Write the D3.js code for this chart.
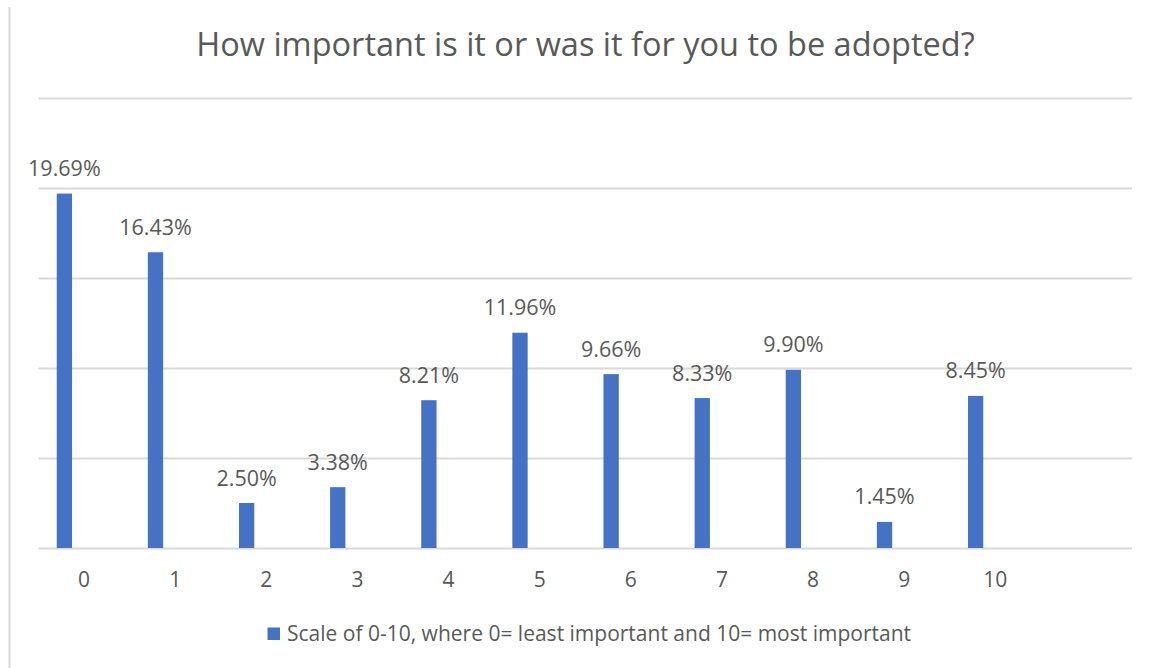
<!DOCTYPE html>
<html>
<head>
<meta charset="utf-8">
<script src="https://cdn.jsdelivr.net/npm/d3@7"></script>
<style>
  html, body { margin: 0; padding: 0; background: #ffffff; }
  svg { display: block; font-family: "Open Sans", "Noto Sans", sans-serif; }
</style>
</head>
<body>
<svg id="chart" width="1153" height="668"></svg>
<script>
// Survey answers on a 0–10 scale, share of respondents (%)
const categories = ["0", "1", "2", "3", "4", "5", "6", "7", "8", "9", "10"];
const values = [19.69, 16.43, 2.50, 3.38, 8.21, 11.96, 9.66, 8.33, 9.90, 1.45, 8.45];
const seriesName = "Scale of 0-10, where 0= least important and 10= most important";
const title = "How important is it or was it for you to be adopted?";
const yTicks = [0, 5, 10, 15, 20, 25];

const W = 1153, H = 668;
const plot = { left: 38.5, right: 1132, top: 98, bottom: 548 };
const barColor = "#4472C4";
const textColor = "#595959";
const gridColor = "#d9d9d9";

const svg = d3.select("#chart");

// thin frame line on the left edge
svg.append("line")
  .attr("x1", 9.5).attr("x2", 9.5)
  .attr("y1", 7).attr("y2", H)
  .attr("stroke", gridColor).attr("stroke-width", 2);

// category axis keeps one trailing empty slot after "10"
const slots = categories.concat([""]);
const x = d3.scaleBand().domain(slots).range([plot.left, plot.right]).padding(0);
const y = d3.scaleLinear().domain([0, 25]).range([plot.bottom, plot.top]);

const bw = x.bandwidth();
const barOffset = bw * 0.2;
const barWidth = bw * 0.168;

// horizontal gridlines
svg.append("g")
  .selectAll("line")
  .data(yTicks)
  .join("line")
  .attr("x1", plot.left).attr("x2", plot.right)
  .attr("y1", d => Math.round(y(d)) + 0.5)
  .attr("y2", d => Math.round(y(d)) + 0.5)
  .attr("stroke", gridColor)
  .attr("stroke-width", 2);

// bars
svg.append("g")
  .selectAll("rect")
  .data(values)
  .join("rect")
  .attr("x", (d, i) => x(categories[i]) + barOffset)
  .attr("width", barWidth)
  .attr("y", d => y(d))
  .attr("height", d => y(0) - y(d))
  .attr("fill", barColor);

// value labels above each bar
svg.append("g")
  .selectAll("text")
  .data(values)
  .join("text")
  .attr("x", (d, i) => x(categories[i]) + barOffset + barWidth / 2)
  .attr("y", d => y(d) - 17.5)
  .attr("text-anchor", "middle")
  .attr("fill", textColor)
  .attr("font-size", 21.5)
  .text(d => d.toFixed(2) + "%");

// category axis labels
const xAxis = d3.axisBottom(x).tickSize(0).tickPadding(0);
const gx = svg.append("g")
  .attr("transform", `translate(0,${plot.bottom})`)
  .call(xAxis);
gx.select(".domain").remove();
gx.selectAll("text")
  .attr("dy", null)
  .attr("y", 39)
  .attr("fill", textColor)
  .attr("font-size", 21)
  .attr("font-family", "'Open Sans', 'Noto Sans', sans-serif");

// title
svg.append("text")
  .attr("x", 585.5)
  .attr("y", 56)
  .attr("text-anchor", "middle")
  .attr("fill", textColor)
  .attr("font-size", 32.5)
  .text(title);

// legend
const legend = svg.append("g");
legend.append("rect")
  .attr("x", 267.5).attr("y", 627.5)
  .attr("width", 12.5).attr("height", 12.5)
  .attr("fill", barColor);
legend.append("text")
  .attr("x", 287)
  .attr("y", 640.5)
  .attr("fill", textColor)
  .attr("font-size", 21)
  .text(seriesName);
</script>
</body>
</html>
